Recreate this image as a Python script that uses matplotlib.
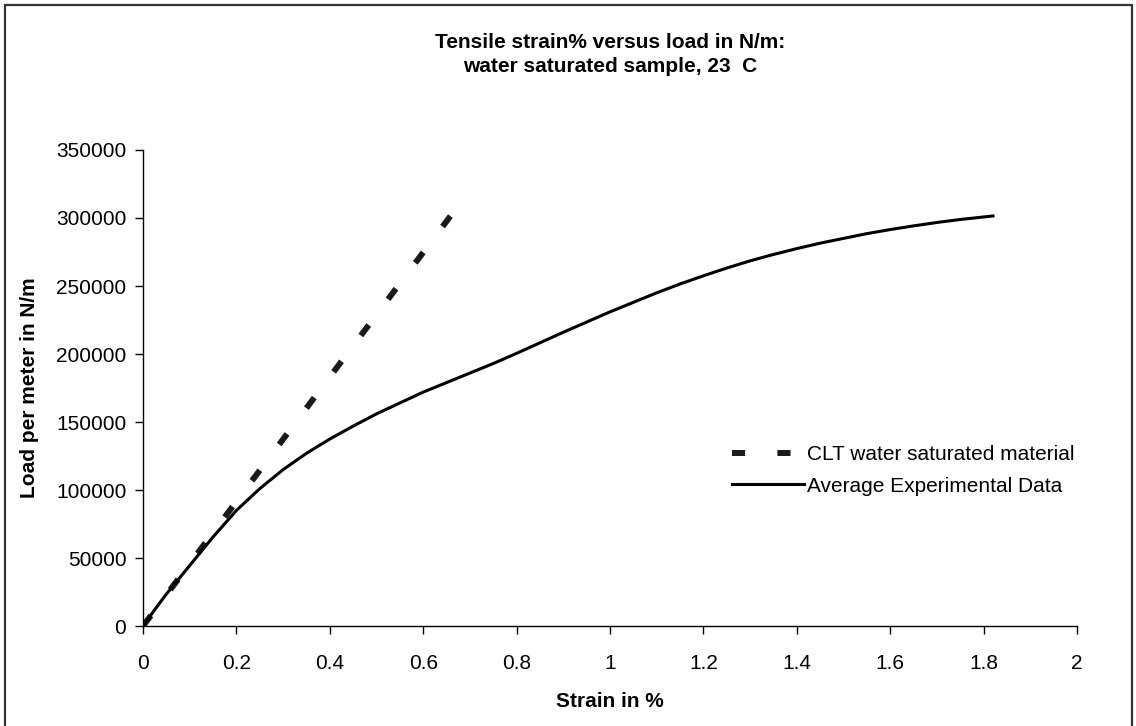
import matplotlib.pyplot as plt
from matplotlib.patches import Rectangle

plt.rcParams['font.family'] = ['Liberation Sans', 'DejaVu Sans']

# CLT prediction (straight line)
clt_strain = [0.0, 0.665]
clt_load = [0, 304500]

# averaged experimental curve
exp_strain = [0.0, 0.025, 0.05, 0.075, 0.1, 0.15, 0.2, 0.25, 0.3, 0.35, 0.4,
              0.45, 0.5, 0.55, 0.6, 0.65, 0.7, 0.75, 0.8, 0.9, 1.0, 1.05,
              1.1, 1.15, 1.2, 1.25, 1.3, 1.35, 1.4, 1.45, 1.5, 1.55, 1.6,
              1.65, 1.7, 1.75, 1.82]
exp_load = [0, 12000, 23500, 34000, 44500, 65500, 85000, 101000, 115000,
            127000, 137500, 147000, 156000, 164000, 172000, 179000, 186000,
            193000, 200500, 216000, 231000, 238000, 245000, 251500, 257500,
            263200, 268500, 273200, 277500, 281500, 285000, 288500, 291500,
            294200, 296700, 298900, 301500]

xticks = [0, 0.2, 0.4, 0.6, 0.8, 1, 1.2, 1.4, 1.6, 1.8, 2]
xlabels = ['0', '0.2', '0.4', '0.6', '0.8', '1', '1.2', '1.4', '1.6', '1.8', '2']
yticks = list(range(0, 350001, 50000))

fig = plt.figure(figsize=(11.36, 7.26), dpi=100)
ax = fig.add_axes([0.1259, 0.1377, 0.8222, 0.6557])

ax.plot(clt_strain, clt_load, color='#1a1a1a', lw=4.3, dashes=(2.2, 5.4),
        solid_capstyle='butt', dash_capstyle='butt',
        label='CLT water saturated material')
ax.plot(exp_strain, exp_load, color='black', lw=2.2,
        solid_joinstyle='round', label='Average Experimental Data')

ax.set_xlim(0, 2)
ax.set_ylim(0, 350000)
ax.set_xticks(xticks)
ax.set_xticklabels(xlabels)
ax.set_yticks(yticks)
ax.set_yticklabels([str(v) for v in yticks])
ax.tick_params(direction='out', length=6, width=1, labelsize=15, pad=6)
ax.tick_params(axis='x', pad=14)

for s in ['top', 'right']:
    ax.spines[s].set_visible(False)
for s in ['left', 'bottom']:
    ax.spines[s].set_linewidth(1)

ax.set_xlabel('Strain in %', fontsize=15, fontweight='bold', labelpad=14)
ax.set_ylabel('Load per meter in N/m', fontsize=15, fontweight='bold', labelpad=12)

fig.text(0.537, 0.942, 'Tensile strain% versus load in N/m:', ha='center',
         va='center', fontsize=15, fontweight='bold')
fig.text(0.537, 0.909, 'water saturated sample, 23  C', ha='center',
         va='center', fontsize=15, fontweight='bold')

leg = ax.legend(loc='upper left', bbox_to_anchor=(0.61, 0.42), frameon=False,
                fontsize=15, handlelength=3.5, handletextpad=0.1,
                labelspacing=0.62)

fig.patches.append(Rectangle((5 / 1136, -0.02), 1127 / 1136, 1 - 5 / 726 + 0.02,
                             transform=fig.transFigure, fill=False,
                             edgecolor='#333333', lw=1.6))

fig.savefig('out.png', dpi=100)
